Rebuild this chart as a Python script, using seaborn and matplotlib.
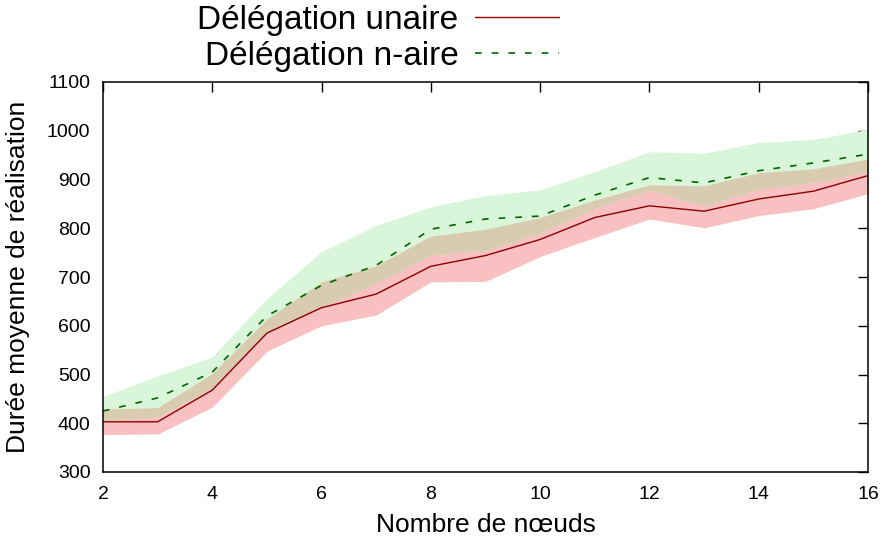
import numpy as np
import pandas as pd
import matplotlib
matplotlib.use("Agg")
import matplotlib.pyplot as plt
import seaborn as sns

# ---- data ----
nodes = [2, 3, 4, 5, 6, 7, 8, 9, 10, 11, 12, 13, 14, 15, 16]

unaire_mean = [403, 403, 468, 585, 637, 665, 722, 744, 777, 822, 846, 835, 860, 876, 908]
unaire_low  = [377, 378, 433, 548, 600, 622, 690, 691, 742, 781, 819, 801, 826, 840, 871]
unaire_high = [429, 432, 502, 614, 690, 723, 784, 798, 822, 858, 889, 887, 914, 922, 942]

naire_mean = [425, 452, 505, 620, 683, 724, 798, 819, 825, 868, 904, 893, 918, 934, 952]
naire_low  = [405, 413, 472, 588, 639, 687, 745, 755, 790, 841, 878, 846, 880, 894, 916]
naire_high = [455, 497, 536, 656, 752, 806, 844, 867, 879, 916, 957, 954, 976, 982, 1003]

series_names = ["Délégation unaire", "Délégation n-aire"]
x_ticks = [2, 4, 6, 8, 10, 12, 14, 16]
y_ticks = [300, 400, 500, 600, 700, 800, 900, 1000, 1100]
x_label = "Nombre de nœuds"
y_label = "Durée moyenne de réalisation"

# ---- style ----
sns.set_style("white")
plt.rcParams["font.family"] = ["Liberation Sans", "DejaVu Sans"]
plt.rcParams["text.color"] = "black"
plt.rcParams["axes.labelcolor"] = "black"

fig = plt.figure(figsize=(8.89, 5.42), dpi=100)
ax = fig.add_axes([103 / 889, 70 / 542, 765 / 889, 390 / 542])

x = np.array(nodes)
ul, uh = np.array(unaire_low), np.array(unaire_high)
nl, nh = np.array(naire_low), np.array(naire_high)

# bands
ax.fill_between(x, ul, uh, color="#f8c0c0", lw=0)
ax.fill_between(x, nl, nh, color="#daf6da", lw=0)
ov_lo = np.maximum(ul, nl)
ov_hi = np.minimum(uh, nh)
ax.fill_between(x, ov_lo, ov_hi, where=ov_hi > ov_lo, interpolate=True,
                color="#d8cbb0", lw=0)

df_u = pd.DataFrame({"n": nodes, "duree": unaire_mean, "serie": series_names[0]})
df_n = pd.DataFrame({"n": nodes, "duree": naire_mean, "serie": series_names[1]})

sns.lineplot(data=df_u, x="n", y="duree", color="#8b0000", linewidth=1.0,
             ax=ax, legend=False, errorbar=None)
sns.lineplot(data=df_n, x="n", y="duree", color="#006400", linewidth=1.2,
             ax=ax, legend=False, errorbar=None)
ax.lines[1].set_dashes((4, 6))

ax.set_xlim(2, 16)
ax.set_ylim(300, 1100)
ax.set_xticks(x_ticks)
ax.set_yticks(y_ticks)
ax.tick_params(direction="in", length=7, width=1, top=True, right=True,
               labelsize=14, colors="black")
ax.tick_params(axis="x", pad=10)
ax.tick_params(axis="y", pad=9)
for s in ax.spines.values():
    s.set_visible(True)
    s.set_color("black")
    s.set_linewidth(1.1)

ax.set_xlabel(x_label, fontsize=19, labelpad=7, color="black")
ax.set_ylabel(y_label, fontsize=19, labelpad=12, color="black")

leg = fig.legend(ax.lines[:2], series_names, loc="center",
                 bbox_to_anchor=(378 / 889, 1 - 38 / 542), frameon=False,
                 fontsize=24, markerfirst=False, handlelength=2.5,
                 handletextpad=0.5, labelspacing=0.15, borderpad=0,
                 borderaxespad=0, labelcolor="black")

fig.savefig("out.png", dpi=100)
